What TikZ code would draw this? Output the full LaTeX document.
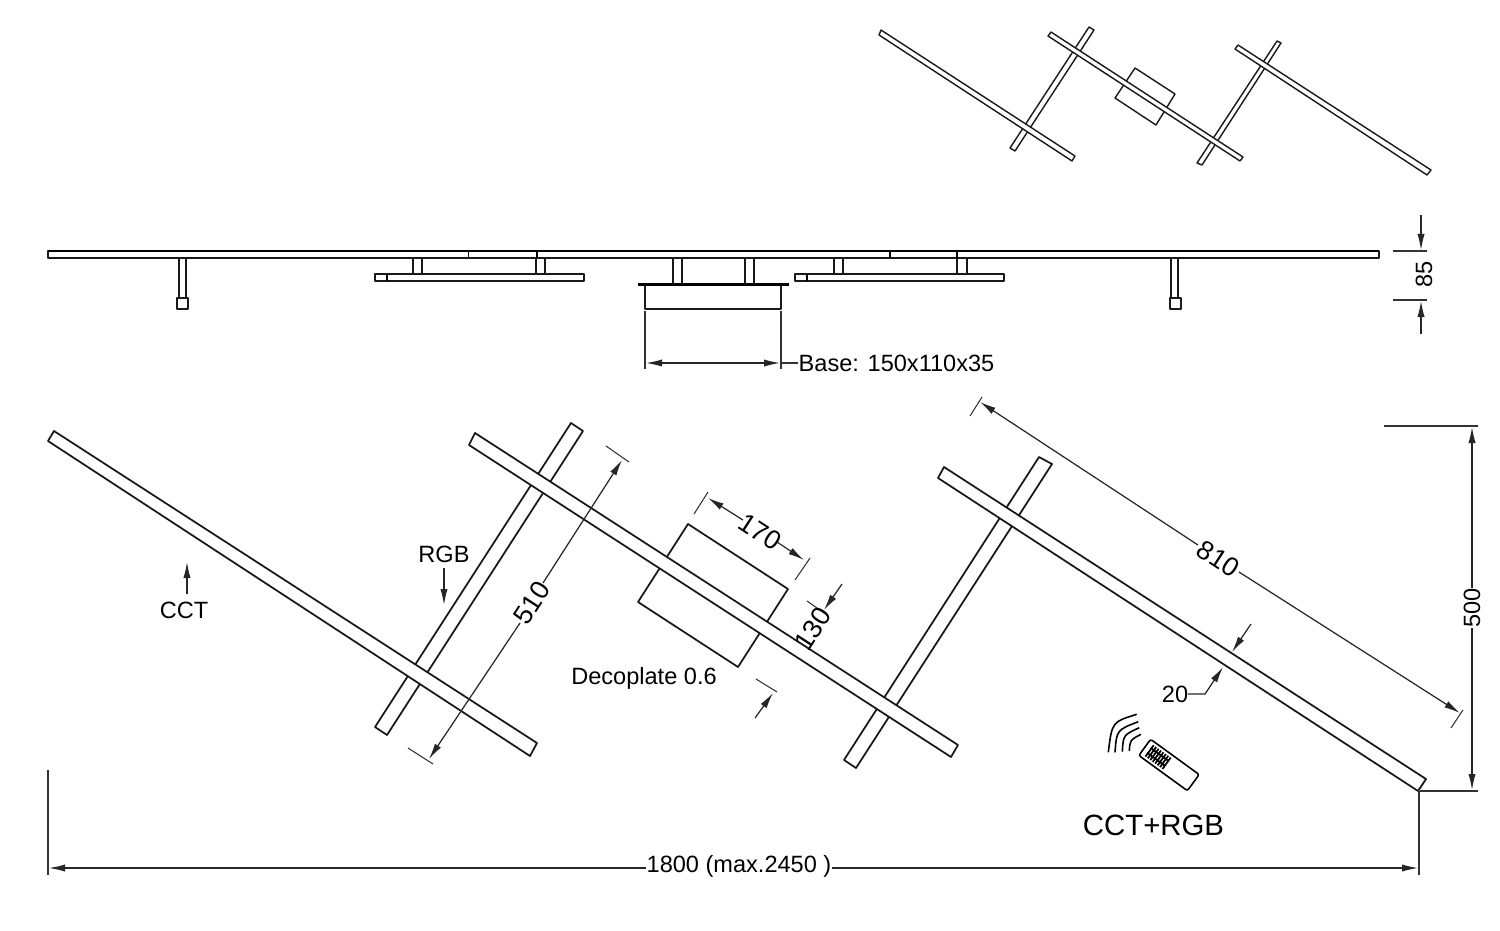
\documentclass[tikz,border=0pt]{standalone}
\usepackage{fontspec}
\setmainfont{Liberation Sans}
\usetikzlibrary{arrows.meta}
\tikzset{
  bar/.style={draw=black!90, fill=white, line width=0.5pt, line join=round},
  dimline/.style={draw=black!80, line width=0.3pt},
  dimarrow/.style={draw=black!85, line width=0.35pt, -{Latex[length=1.6mm,width=0.72mm]}},
  label/.style={font=\fontsize{6.7}{8}\selectfont, inner sep=0pt},
  dimlabel/.style={font=\fontsize{7.6}{9}\selectfont, inner sep=0pt}
}
\begin{document}
\begin{tikzpicture}[x=0.01cm, y=-0.01cm]
  \useasboundingbox (0,0) rectangle (1500,930);
  % small view
  \draw[bar, line width=0.4pt] (1089,27)--(1094,30)--(1015,151)--(1010,148)--cycle;
  \draw[bar, line width=0.4pt] (1277,41)--(1281,43)--(1202,165)--(1197,163)--cycle;
  \draw[bar, line width=0.4pt] (881,30)--(879,35)--(1072,161)--(1075,156)--cycle;
  \draw[bar, line width=0.4pt] (1135,68)--(1175,94)--(1156,125)--(1115,98)--cycle;
  \draw[bar, line width=0.4pt] (1051,32)--(1048,36)--(1240,161)--(1243,157)--cycle;
  \draw[bar, line width=0.4pt] (1238,45)--(1235,49)--(1427,175)--(1431,170)--cycle;
  % side view
  \draw[bar] (179,258) rectangle (186,298);
  \draw[bar] (177,298) rectangle (188,309);
  \draw[bar] (1171,258) rectangle (1178,298);
  \draw[bar] (1170,298) rectangle (1181,309);
  \draw[bar] (413,258) rectangle (422,274);
  \draw[bar] (536,258) rectangle (545,274);
  \draw[bar] (834,258) rectangle (843,274);
  \draw[bar] (957,258) rectangle (967,274);
  \draw[bar] (673,258) rectangle (682,284);
  \draw[bar] (745,258) rectangle (754,284);
  \draw[bar] (48,251) rectangle (1379,258);
  \draw[line width=0.75pt] (48,251)--(1379,251);
  \draw[line width=0.4pt] (468.5,251)--(468.5,258);
  \draw[line width=0.4pt] (537,251)--(537,258);
  \draw[line width=0.4pt] (890,251)--(890,258);
  \draw[line width=0.4pt] (957,251)--(957,258);
  \draw[bar] (375,274) rectangle (584,281);
  \draw[line width=0.5pt] (387,274)--(387,281);
  \draw[bar] (795,274) rectangle (1004,281);
  \draw[line width=0.5pt] (807,274)--(807,281);
  \draw[bar] (645,284) rectangle (781,309);
  \draw[line width=0.85pt] (638,284)--(789,284);
  \draw[dimline] (645,311)--(645,369);
  \draw[dimline] (781,311)--(781,369);
  \draw[dimarrow] (700,363)--(646,363);
  \draw[dimarrow] (700,363)--(780,363);
  \draw[dimline] (781,363)--(798,363);
  \node[label, anchor=west] (basetext) at (798,363) {Base: 150x110x35};
  % 85
  \draw[dimline] (1393,251)--(1427,251);
  \draw[dimline] (1393,300)--(1427,300);
  \draw[dimarrow] (1421,215)--(1421,250);
  \draw[dimarrow] (1421,334)--(1421,301);
  \node[label, rotate=90] (heighttext) at (1424,274) {85};
  % plan
  \draw[bar] (571,423)--(583,431)--(387,735)--(375,727)--cycle;
  \draw[bar] (1039,457)--(1052,464)--(856,768)--(844,760)--cycle;
  \draw[bar] (54,431)--(48,441)--(530,756)--(537,743)--cycle;
  \draw[bar] (688,524)--(788,589)--(738,667)--(638,602)--cycle;
  \draw[bar] (475,433)--(469,445)--(951,757)--(958,745)--cycle;
  \draw[bar] (944,467)--(938,478)--(1418,791)--(1426,779)--cycle;
  % 510
  \draw[dimline] (606,446)--(629,462);
  \draw[dimline] (408,748)--(433,764);
  \draw[dimarrow] (543,583)--(622,460);
  \draw[dimarrow] (520,623)--(429,759);
  \node[dimlabel, rotate=57] (crosstext) at (531.5,603) {510};
  % 170
  \draw[dimline] (708,492)--(694,514);
  \draw[dimline] (810,558)--(795,580);
  \draw[dimarrow] (743,520)--(708,498);
  \draw[dimarrow] (777,542)--(804,560);
  \node[dimlabel, rotate=-33] (platetext) at (760,532) {170};
  % 130
  \draw[dimline] (807,601)--(827,615);
  \draw[dimline] (756,679)--(777,692);
  \draw[dimarrow] (842,584)--(824,610);
  \draw[dimarrow] (755,718)--(773,693);
  \node[dimlabel, rotate=57] (depthtext) at (813,629) {130};
  \node[label] (decotext) at (644,678) {Decoplate 0.6};
  % 810
  \draw[dimline] (982,397)--(970,416);
  \draw[dimline] (1463,710)--(1451,728);
  \draw[dimarrow] (1198,545)--(980,402);
  \draw[dimarrow] (1239,572)--(1460,713);
  \node[dimlabel, rotate=-33] (lengthtext) at (1218.5,559) {810};
  % 20
  \draw[dimarrow] (1251,624)--(1232,652);
  \draw[dimarrow] (1188,694)--(1205,694)--(1223,667);
  \node[label] (widthtext) at (1175,694) {20};
  % labels
  \node[label] (rgbtext) at (444,554) {RGB};
  \draw[dimarrow] (444,568)--(444,605);
  \node[label] (ccttext) at (184,610) {CCT};
  \draw[dimarrow] (187,594)--(187,562);
  % 500
  \draw[dimline] (1384,426)--(1478,426);
  \draw[dimline] (1420,791)--(1478,791);
  \draw[dimarrow] (1472,588)--(1472,427);
  \draw[dimarrow] (1472,628)--(1472,790);
  \node[label, rotate=90] (depthalltext) at (1472,608) {500};
  % 1800
  \draw[dimline] (48,770)--(48,875);
  \draw[dimline] (1419,791)--(1419,875);
  \draw[dimarrow] (646,868)--(49,868);
  \draw[dimarrow] (832,868)--(1418,868);
  \node[label] (widthalltext) at (739,866.5) {1800 (max.2450 )};
  % remote
  \begin{scope}[shift={(1169,765)}, rotate=-36]
    \draw[line width=0.45pt, rounded corners=0.6pt] (-30,-10) rectangle (30,10);
    \foreach \k in {-24,-21,-18,-15,-12,-9,-6,-3}
      \draw[line width=0.5pt] (\k,-7)--(\k,7);
    \draw[line width=0.5pt] (-25,-3)--(-3,-3);
    \draw[line width=0.5pt] (-25,3)--(-3,3);
  \end{scope}
  \draw[line width=0.45pt] (1108.3,752.3) .. controls (1112,722) .. (1136.7,714.3);
  \draw[line width=0.45pt] (1115,752.3) .. controls (1116.7,730) .. (1138.3,721.7);
  \draw[line width=0.45pt] (1122.3,751.7) .. controls (1123.3,735) .. (1139.3,727.7);
  \draw[line width=0.45pt] (1129.3,751) .. controls (1130,740) .. (1141,734.3);
  \node[font=\fontsize{8.35}{10}\selectfont, inner sep=0pt] (remotetext) at (1153.5,825) {CCT+RGB};
\end{tikzpicture}
\end{document}
